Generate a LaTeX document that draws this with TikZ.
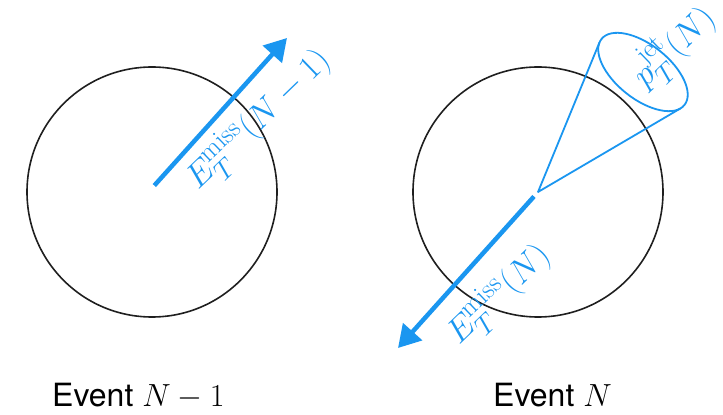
\documentclass[tikz,border=0pt]{standalone}
\DeclareFontShape{OML}{cmm}{m}{it}{<-6>cmmi5<6-7>cmmi6<7-8>cmmi7<8-9>cmmi8<9-10>cmmi9<10-12>cmmi10<12->cmmi12}{}
\DeclareFontShape{OMS}{cmsy}{m}{n}{<-6>cmsy5<6-7>cmsy6<7-8>cmsy7<8-9>cmsy8<9-10>cmsy9<10->cmsy10}{}
\DeclareFontShape{OMX}{cmex}{m}{n}{<->cmex10}{}
\DeclareFontShape{OT1}{cmr}{m}{n}{<-6>cmr5<6-7>cmr6<7-8>cmr7<8-9>cmr8<9-10>cmr9<10-12>cmr10<12-17>cmr12<17->cmr17}{}
\DeclareMathSizes{34}{34}{27}{20}
\DeclareMathSizes{32}{32}{23}{17}
\usepackage{fontspec}
\setsansfont{TeX Gyre Heros}
\usetikzlibrary{arrows.meta}
\definecolor{eblue}{RGB}{26,150,240}
\begin{document}
\begin{tikzpicture}[x=1pt,y=1pt,
  ring/.style={draw=black!88, line width=1.6pt, circle, minimum size=250pt, inner sep=0pt},
  bigarrow/.style={draw=eblue, line width=4.5pt, -{Triangle[length=22pt,width=25pt]}},
  conestyle/.style={draw=eblue, line width=1.8pt, line join=round},
  lbl/.style={text=eblue, inner sep=0pt, rotate=44, anchor=base west, font=\fontsize{34}{40}\selectfont},
  evt/.style={inner sep=0pt, anchor=base west, font=\fontsize{32}{38}\selectfont\sffamily}]
\useasboundingbox (0,0) rectangle (723,415);
% circles
\node[ring] (c1) at (152,223) {};
\node[ring] (c2) at (538,223) {};
% event N-1
\coordinate (la1) at (153,228);
\coordinate (la2) at (287,377);
\draw[bigarrow, shorten <=2pt] (la1) -- (la2);
\node[lbl] (l1) at (198,224) {$E_T^{\mathrm{miss}}(N-1)$};
% event N
\coordinate (ap) at (538,223);
\coordinate (ra2) at (398,67);
\coordinate (ec) at (643,343);
\coordinate (t1) at (680.5,306.6);
\coordinate (t2) at (599.5,372.6);
\draw[bigarrow, shorten <=6pt] (ap) -- (ra2);
\draw[conestyle] (t2) -- (ap) -- (t1);
\draw[conestyle, rotate around={-38.5:(ec)}] (ec) ellipse [x radius=53, y radius=27];
\node[lbl] (l2) at (459,69) {$E_T^{\mathrm{miss}}(N)$};
\node[lbl] (l3) at (645,326) {$p_T^{\mathrm{jet}}(N)$};
% captions
\node[evt] (e1) at (52,9) {Event $N-1$};
\node[evt] (e2) at (493,9) {Event $N$};
\end{tikzpicture}
\end{document}
